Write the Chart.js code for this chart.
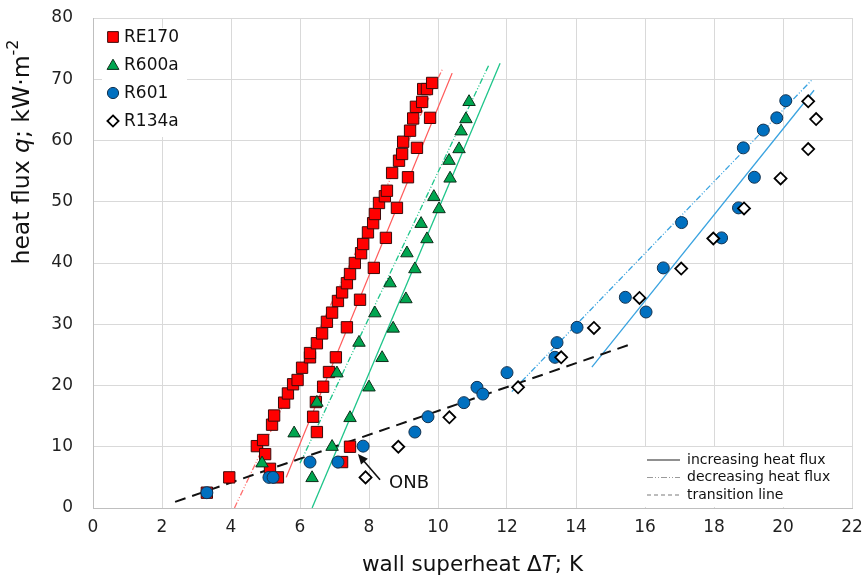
<!DOCTYPE html>
<html>
<head>
<meta charset="utf-8">
<script src="https://cdn.jsdelivr.net/npm/chart.js@4.4.1/dist/chart.umd.min.js"></script>
<style>
  html, body { margin: 0; padding: 0; background: #fff; }
</style>
</head>
<body>
<canvas id="boiling-chart" width="867" height="579"></canvas>
<script>
"use strict";

// axis ticks
const xTicks = [0, 2, 4, 6, 8, 10, 12, 14, 16, 18, 20, 22];
const yTicks = [0, 10, 20, 30, 40, 50, 60, 70, 80];

// measured points, wall superheat dT [K] and heat flux q [kW/m2]
const re170X = [3.3, 3.95, 4.75, 4.93, 4.99, 5.13, 5.36, 5.19, 5.25, 5.54, 5.65, 5.8, 5.93, 6.06, 6.29, 6.29,
  6.49, 6.64, 6.78, 6.93, 7.1, 7.22, 7.36, 7.45, 7.59, 7.77, 7.83, 7.97, 8.12, 8.17, 8.29, 8.46, 8.52, 8.67,
  8.87, 8.96, 8.99, 9.19, 9.28, 9.36, 9.54, 9.57, 9.68, 9.83,
  6.38, 6.46, 6.49, 6.67, 6.84, 7.04, 7.36, 7.74, 8.14, 8.49, 8.81, 9.13, 9.39, 9.77, 7.45, 7.22];
const re170Y = [2.5, 5.0, 10.1, 11.1, 8.8, 6.4, 5.0, 13.6, 15.1, 17.2, 18.7, 20.2, 20.9, 22.9, 24.6, 25.3,
  26.9, 28.5, 30.4, 31.9, 33.8, 35.2, 36.7, 38.2, 40.0, 41.6, 43.1, 45.0, 46.5, 48.0, 49.8, 50.9, 51.8, 54.7,
  56.7, 57.8, 59.8, 61.6, 63.6, 65.5, 66.3, 68.4, 68.4, 69.4,
  14.9, 17.3, 12.4, 19.8, 22.2, 24.6, 29.5, 34.0, 39.2, 44.1, 49.0, 54.0, 58.8, 63.7, 10.0, 7.5];

const r600aX = [4.9, 5.83, 6.35, 6.49, 6.93, 7.07, 7.45, 7.71, 8.0, 8.17, 8.38, 8.61, 8.7, 9.07, 9.1, 9.33,
  9.51, 9.68, 9.88, 10.03, 10.32, 10.35, 10.61, 10.67, 10.81, 10.9];
const r600aY = [7.3, 12.2, 4.9, 17.2, 10.0, 22.0, 14.7, 27.0, 19.7, 31.8, 24.5, 36.7, 29.3, 34.1, 41.6, 39.0,
  46.4, 43.9, 50.8, 48.8, 56.7, 53.8, 58.6, 61.5, 63.5, 66.3];

const r601X = [3.3, 5.1, 5.22, 6.29, 7.1, 7.83, 9.33, 9.71, 10.75, 11.13, 11.3, 12.0, 13.39, 13.45, 14.03,
  15.43, 16.03, 16.53, 17.06, 18.22, 18.71, 18.85, 19.17, 19.43, 19.82, 20.08];
const r601Y = [2.5, 5.0, 5.0, 7.5, 7.5, 10.1, 12.4, 14.9, 17.2, 19.7, 18.6, 22.1, 24.6, 27.0, 29.5,
  34.4, 32.0, 39.2, 46.6, 44.1, 49.0, 58.8, 54.0, 61.7, 63.7, 66.5];

const r134aX = [7.9, 8.85, 10.33, 12.32, 13.57, 14.52, 15.84, 17.05, 17.98, 18.87, 19.93, 20.73, 20.73, 20.96];
const r134aY = [5.0, 10.0, 14.8, 19.7, 24.6, 29.4, 34.3, 39.1, 44.0, 48.9, 53.8, 58.6, 66.4, 63.5];

// fitted lines, [start, end]
const re170IncLine = [[5.6, 5.0], [10.41, 71.0]];
const re170DecLine = [[4.1, 0], [10.14, 71.8]];
const r600aIncLine = [[6.35, 0], [11.8, 72.6]];
const r600aDecLine = [[6.0, 7.3], [11.48, 72.4]];
const r601IncLine = [[14.46, 23.0], [20.9, 68.2]];
const r601DecLine = [[12.14, 19.0], [20.84, 69.9]];
const transitionLine = [[2.38, 1.0], [15.62, 26.8]];

// ONB arrow: tip, tail, label
const onbTip = [7.68, 8.8];
const onbTail = [8.32, 4.6];
const onbLabel = [8.58, 4.1];

const fontFamily = "'DejaVu Sans', Verdana, sans-serif";
const dashDot = [6, 2, 1, 2, 1, 2];
// where the plot area sits in the reference
const targetArea = { left: 93, right: 852, top: 18, bottom: 508 };

const toPoints = (xs, ys) => xs.map((x, i) => ({ x: x, y: ys[i] }));
const linePoints = (pts) => pts.map((p) => ({ x: p[0], y: p[1] }));

const seriesStyles = [
  { label: "RE170", xs: re170X, ys: re170Y, pointStyle: "rect", radius: 8, fill: "#ff0000", border: "#3b0a0a", order: 3 },
  { label: "R600a", xs: r600aX, ys: r600aY, pointStyle: "triangle", radius: 7.2, fill: "#00a650", border: "#0d2e1a", order: 2 },
  { label: "R601", xs: r601X, ys: r601Y, pointStyle: "circle", radius: 6, fill: "#0070c0", border: "#13324f", order: 1 },
  { label: "R134a", xs: r134aX, ys: r134aY, pointStyle: "rectRot", radius: 6, fill: "#ffffff", border: "#000000", order: 0 },
];

const lineStyles = [
  { pts: re170IncLine, color: "#ff5a5a", dash: [] },
  { pts: re170DecLine, color: "#ff7070", dash: dashDot },
  { pts: r600aIncLine, color: "#1ec58a", dash: [] },
  { pts: r600aDecLine, color: "#1ec58a", dash: dashDot },
  { pts: r601IncLine, color: "#3aa3e0", dash: [] },
  { pts: r601DecLine, color: "#3aa3e0", dash: dashDot },
];

const datasets = seriesStyles.map((s) => ({
  label: s.label,
  data: toPoints(s.xs, s.ys),
  pointStyle: s.pointStyle,
  pointRadius: s.radius,
  backgroundColor: s.fill,
  borderColor: s.border,
  borderWidth: s.pointStyle === "rectRot" ? 1.8 : 1,
  showLine: false,
  order: s.order,
}));

lineStyles.forEach((l) => {
  datasets.push({
    data: linePoints(l.pts),
    showLine: true,
    borderColor: l.color,
    borderWidth: 1.3,
    borderDash: l.dash,
    pointRadius: 0,
    order: 5,
  });
});

datasets.push({
  data: linePoints(transitionLine),
  showLine: true,
  borderColor: "#111111",
  borderWidth: 2,
  borderDash: [11, 7],
  pointRadius: 0,
  order: 4,
});

function drawMarker(ctx, style, x, y, r, fill, stroke, lw) {
  ctx.save();
  ctx.beginPath();
  if (style === "rect") {
    const h = r * Math.SQRT1_2;
    ctx.rect(x - h, y - h, 2 * h, 2 * h);
  } else if (style === "triangle") {
    ctx.moveTo(x, y - r);
    ctx.lineTo(x + r * 0.87, y + r * 0.5);
    ctx.lineTo(x - r * 0.87, y + r * 0.5);
    ctx.closePath();
  } else if (style === "circle") {
    ctx.arc(x, y, r, 0, Math.PI * 2);
  } else {
    ctx.moveTo(x, y - r);
    ctx.lineTo(x + r, y);
    ctx.lineTo(x, y + r);
    ctx.lineTo(x - r, y);
    ctx.closePath();
  }
  ctx.fillStyle = fill;
  ctx.fill();
  ctx.lineWidth = lw;
  ctx.strokeStyle = stroke;
  ctx.stroke();
  ctx.restore();
}

// mixed-style text pieces: [text, italic, superscript]
function drawPieces(ctx, pieces, size, cx, cy) {
  const fontFor = (p) => (p[1] ? "italic " : "") + (p[2] ? Math.round(size * 0.68) : size) + "px " + fontFamily;
  let total = 0;
  pieces.forEach((p) => { ctx.font = fontFor(p); total += ctx.measureText(p[0]).width; });
  let x = cx - total / 2;
  ctx.textBaseline = "middle";
  ctx.textAlign = "left";
  pieces.forEach((p) => {
    ctx.font = fontFor(p);
    ctx.fillText(p[0], x, p[2] ? cy - size * 0.38 : cy);
    x += ctx.measureText(p[0]).width;
  });
}

const overlayPlugin = {
  id: "overlay",
  afterDatasetsDraw(chart) {
    const ctx = chart.ctx;
    const area = chart.chartArea;
    const xs = chart.scales.x;
    const ys = chart.scales.y;

    // series legend, top left
    ctx.save();
    ctx.fillStyle = "#ffffff";
    ctx.fillRect(area.left + 9, area.top + 10, 85, 109);
    seriesStyles.forEach((s, i) => {
      const cy = area.top + 19 + i * 28;
      const r = s.pointStyle === "rect" ? 7.6 : (s.pointStyle === "triangle" ? 6.8 : 5.6);
      drawMarker(ctx, s.pointStyle, area.left + 20, cy + (s.pointStyle === "triangle" ? 1 : 0), r, s.fill, s.border,
        s.pointStyle === "rectRot" ? 1.8 : 1);
      ctx.fillStyle = "#111111";
      ctx.font = "17px " + fontFamily;
      ctx.textAlign = "left";
      ctx.textBaseline = "middle";
      ctx.fillText(s.label, area.left + 31, cy + 1);
    });

    // line style legend, bottom right
    ctx.fillStyle = "#ffffff";
    ctx.fillRect(area.right - 207, area.bottom - 61, 206, 60);
    const lineKeys = [
      { text: "increasing heat flux", color: "#222222", dash: [], w: 1.2 },
      { text: "decreasing heat flux", color: "#9a9a9a", dash: dashDot, w: 1.2 },
      { text: "transition line", color: "#7a7a7a", dash: [4, 3], w: 1.2 },
    ];
    lineKeys.forEach((k, i) => {
      const cy = area.bottom - 48 + i * 17.5;
      ctx.beginPath();
      ctx.setLineDash(k.dash);
      ctx.strokeStyle = k.color;
      ctx.lineWidth = k.w;
      ctx.moveTo(area.right - 205, cy);
      ctx.lineTo(area.right - 172, cy);
      ctx.stroke();
      ctx.setLineDash([]);
      ctx.fillStyle = "#111111";
      ctx.font = "14px " + fontFamily;
      ctx.textAlign = "left";
      ctx.textBaseline = "middle";
      ctx.fillText(k.text, area.right - 165, cy);
    });

    // ONB arrow
    const tx = xs.getPixelForValue(onbTip[0]);
    const ty = ys.getPixelForValue(onbTip[1]);
    const bx = xs.getPixelForValue(onbTail[0]);
    const by = ys.getPixelForValue(onbTail[1]);
    const ang = Math.atan2(ty - by, tx - bx);
    ctx.strokeStyle = "#111111";
    ctx.fillStyle = "#111111";
    ctx.lineWidth = 1.6;
    ctx.beginPath();
    ctx.moveTo(bx, by);
    ctx.lineTo(tx - 6 * Math.cos(ang), ty - 6 * Math.sin(ang));
    ctx.stroke();
    ctx.beginPath();
    ctx.moveTo(tx, ty);
    ctx.lineTo(tx - 10 * Math.cos(ang) + 4.5 * Math.sin(ang), ty - 10 * Math.sin(ang) - 4.5 * Math.cos(ang));
    ctx.lineTo(tx - 10 * Math.cos(ang) - 4.5 * Math.sin(ang), ty - 10 * Math.sin(ang) + 4.5 * Math.cos(ang));
    ctx.closePath();
    ctx.fill();
    ctx.font = "18px " + fontFamily;
    ctx.textAlign = "left";
    ctx.textBaseline = "middle";
    ctx.fillText("ONB", xs.getPixelForValue(onbLabel[0]), ys.getPixelForValue(onbLabel[1]));
    ctx.restore();

    // axis titles
    ctx.save();
    ctx.fillStyle = "#111111";
    drawPieces(ctx, [["wall superheat Δ", false, false], ["T", true, false], ["; K", false, false]], 21.5,
      (area.left + area.right) / 2, area.bottom + 57);
    ctx.translate(23, area.top + 134);
    ctx.rotate(-Math.PI / 2);
    drawPieces(ctx, [["heat flux ", false, false], ["q", true, false], ["; kW·m", false, false], ["-2", false, true]], 23.5, 0, 0);
    ctx.restore();
  },
};

const tickFont = { family: fontFamily, size: 17 };

const chart = new Chart(document.getElementById("boiling-chart"), {
  type: "scatter",
  data: { datasets: datasets },
  options: {
    responsive: false,
    animation: false,
    layout: { padding: { top: 18, right: 15, left: 0, bottom: 0 } },
    plugins: {
      legend: { display: false },
      tooltip: { enabled: false },
    },
    scales: {
      x: {
        type: "linear",
        min: 0,
        max: 22,
        afterBuildTicks: (scale) => { scale.ticks = xTicks.map((v) => ({ value: v })); },
        afterFit: (scale) => { scale.height = 71; },
        ticks: { font: tickFont, color: "#1f1f1f", padding: 1, maxRotation: 0 },
        grid: { color: "#d9d9d9", drawTicks: true, tickLength: 8, tickColor: "rgba(0,0,0,0)" },
        border: { color: "#bfbfbf" },
      },
      y: {
        type: "linear",
        min: 0,
        max: 80,
        afterBuildTicks: (scale) => { scale.ticks = yTicks.map((v) => ({ value: v })); },
        afterFit: (scale) => { scale.width = 93; },
        ticks: { font: tickFont, color: "#1f1f1f", padding: 1 },
        grid: { color: "#d9d9d9", drawTicks: true, tickLength: 19, tickColor: "rgba(0,0,0,0)" },
        border: { color: "#bfbfbf" },
      },
    },
  },
  plugins: [overlayPlugin],
});

// nudge the padding so the plot area lands where the reference has it
const area = chart.chartArea;
const pad = chart.options.layout.padding;
chart.options.layout.padding = {
  top: Math.max(0, pad.top + targetArea.top - area.top),
  right: Math.max(0, pad.right + area.right - targetArea.right),
  bottom: Math.max(0, pad.bottom + area.bottom - targetArea.bottom),
  left: Math.max(0, pad.left + targetArea.left - area.left),
};
chart.update();
</script>
</body>
</html>
